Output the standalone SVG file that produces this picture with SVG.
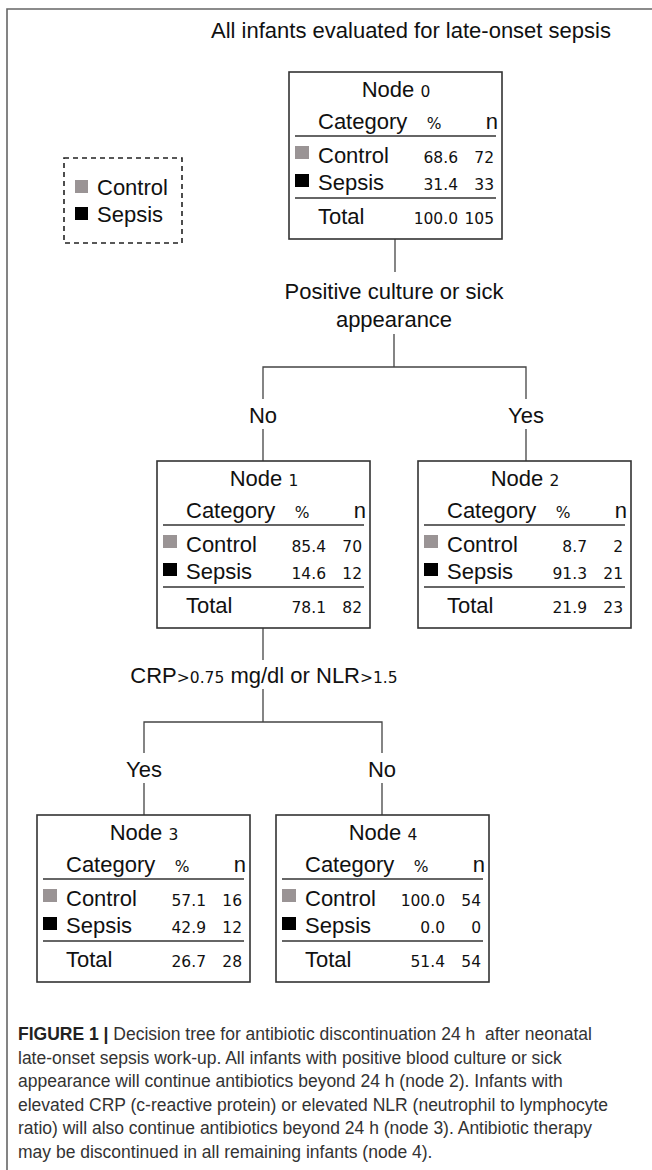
<svg xmlns="http://www.w3.org/2000/svg" width="652" height="1170" viewBox="0 0 652 1170">
<style>
.bg{fill:#ffffff}
.frame{fill:none;stroke:#666;stroke-width:1.6}
.t{font-family:"Liberation Sans",Arial,sans-serif;font-size:22px;fill:#111}
.d{font-family:"DejaVu Sans",Tahoma,sans-serif;font-size:15.5px;fill:#111}
.box{fill:#fff;stroke:#333;stroke-width:1.6}
.rule{stroke:#333;stroke-width:1.4}
.ctl{fill:#9a9495}
.sep{fill:#000}
.conn path{fill:none;stroke:#444;stroke-width:1.3}
.cap{font-family:"Liberation Sans",Arial,sans-serif;font-size:17.5px;fill:#333}
.capb{font-weight:bold;fill:#222}
.leg{fill:none;stroke:#222;stroke-width:1.6;stroke-dasharray:5,4}
</style>
<rect class="bg" x="0" y="0" width="652" height="1170"/>
<path class="frame" d="M7,1170 V9 H652"/>

<text id="title" class="t" x="411" y="38" text-anchor="middle">All infants evaluated for late-onset sepsis</text>

<g id="legend">
  <rect class="leg" x="64" y="158" width="118" height="85"/>
  <rect class="ctl" x="75" y="180" width="13" height="13"/>
  <text class="t" x="97" y="195">Control</text>
  <rect class="sep" x="75" y="207" width="13" height="13"/>
  <text class="t" x="97" y="222">Sepsis</text>
</g>

<g id="connectors" class="conn">
  <path d="M395,239 V272"/>
  <path d="M394,334 V367 M263,399 V367 H526 V399"/>
  <path d="M263,429 V461 M526,429 V461"/>
  <path d="M263,628 V660"/>
  <path d="M263,689 V722 M144,753 V722 H382 V753"/>
  <path d="M144,783 V815 M382,783 V815"/>
</g>
<g id="labels">
  <text class="t" x="394" y="299" text-anchor="middle">Positive culture or sick</text>
  <text class="t" x="394" y="327" text-anchor="middle">appearance</text>
  <text class="t" x="263" y="423" text-anchor="middle">No</text>
  <text class="t" x="526" y="423" text-anchor="middle">Yes</text>
  <text class="t" x="264" y="683" text-anchor="middle">CRP<tspan class="d">&gt;0.75</tspan> mg/dl or NLR<tspan class="d">&gt;1.5</tspan></text>
  <text class="t" x="144" y="777" text-anchor="middle">Yes</text>
  <text class="t" x="382" y="777" text-anchor="middle">No</text>
</g>

<g id="node0" transform="translate(289,72)">
  <rect class="box" x="0" y="0" width="213" height="167"/>
  <text class="t" x="107" y="25" text-anchor="middle">Node <tspan class="d">0</tspan></text>
  <text class="t" x="29" y="57">Category</text>
  <text class="d" x="145" y="57" text-anchor="middle">%</text>
  <text class="t" x="209" y="57" text-anchor="end">n</text>
  <line class="rule" x1="6" y1="64" x2="207" y2="64"/>
  <rect class="ctl" x="6" y="74" width="14" height="13"/>
  <text class="t" x="29" y="91">Control</text>
  <text class="d" x="169" y="91" text-anchor="end">68.6</text>
  <text class="d" x="205" y="91" text-anchor="end">72</text>
  <rect class="sep" x="6" y="102" width="14" height="13"/>
  <text class="t" x="29" y="118">Sepsis</text>
  <text class="d" x="169" y="118" text-anchor="end">31.4</text>
  <text class="d" x="205" y="118" text-anchor="end">33</text>
  <line class="rule" x1="6" y1="126" x2="207" y2="126"/>
  <text class="t" x="29" y="152">Total</text>
  <text class="d" x="169" y="152" text-anchor="end">100.0</text>
  <text class="d" x="205" y="152" text-anchor="end">105</text>
</g>

<g id="node1" transform="translate(157,461)">
  <rect class="box" x="0" y="0" width="213" height="167"/>
  <text class="t" x="107" y="25" text-anchor="middle">Node <tspan class="d">1</tspan></text>
  <text class="t" x="29" y="57">Category</text>
  <text class="d" x="145" y="57" text-anchor="middle">%</text>
  <text class="t" x="209" y="57" text-anchor="end">n</text>
  <line class="rule" x1="6" y1="64" x2="207" y2="64"/>
  <rect class="ctl" x="6" y="74" width="14" height="13"/>
  <text class="t" x="29" y="91">Control</text>
  <text class="d" x="169" y="91" text-anchor="end">85.4</text>
  <text class="d" x="205" y="91" text-anchor="end">70</text>
  <rect class="sep" x="6" y="102" width="14" height="13"/>
  <text class="t" x="29" y="118">Sepsis</text>
  <text class="d" x="169" y="118" text-anchor="end">14.6</text>
  <text class="d" x="205" y="118" text-anchor="end">12</text>
  <line class="rule" x1="6" y1="126" x2="207" y2="126"/>
  <text class="t" x="29" y="152">Total</text>
  <text class="d" x="169" y="152" text-anchor="end">78.1</text>
  <text class="d" x="205" y="152" text-anchor="end">82</text>
</g>

<g id="node2" transform="translate(418,461)">
  <rect class="box" x="0" y="0" width="213" height="167"/>
  <text class="t" x="107" y="25" text-anchor="middle">Node <tspan class="d">2</tspan></text>
  <text class="t" x="29" y="57">Category</text>
  <text class="d" x="145" y="57" text-anchor="middle">%</text>
  <text class="t" x="209" y="57" text-anchor="end">n</text>
  <line class="rule" x1="6" y1="64" x2="207" y2="64"/>
  <rect class="ctl" x="6" y="74" width="14" height="13"/>
  <text class="t" x="29" y="91">Control</text>
  <text class="d" x="169" y="91" text-anchor="end">8.7</text>
  <text class="d" x="205" y="91" text-anchor="end">2</text>
  <rect class="sep" x="6" y="102" width="14" height="13"/>
  <text class="t" x="29" y="118">Sepsis</text>
  <text class="d" x="169" y="118" text-anchor="end">91.3</text>
  <text class="d" x="205" y="118" text-anchor="end">21</text>
  <line class="rule" x1="6" y1="126" x2="207" y2="126"/>
  <text class="t" x="29" y="152">Total</text>
  <text class="d" x="169" y="152" text-anchor="end">21.9</text>
  <text class="d" x="205" y="152" text-anchor="end">23</text>
</g>

<g id="node3" transform="translate(37,815)">
  <rect class="box" x="0" y="0" width="213" height="167"/>
  <text class="t" x="107" y="25" text-anchor="middle">Node <tspan class="d">3</tspan></text>
  <text class="t" x="29" y="57">Category</text>
  <text class="d" x="145" y="57" text-anchor="middle">%</text>
  <text class="t" x="209" y="57" text-anchor="end">n</text>
  <line class="rule" x1="6" y1="64" x2="207" y2="64"/>
  <rect class="ctl" x="6" y="74" width="14" height="13"/>
  <text class="t" x="29" y="91">Control</text>
  <text class="d" x="169" y="91" text-anchor="end">57.1</text>
  <text class="d" x="205" y="91" text-anchor="end">16</text>
  <rect class="sep" x="6" y="102" width="14" height="13"/>
  <text class="t" x="29" y="118">Sepsis</text>
  <text class="d" x="169" y="118" text-anchor="end">42.9</text>
  <text class="d" x="205" y="118" text-anchor="end">12</text>
  <line class="rule" x1="6" y1="126" x2="207" y2="126"/>
  <text class="t" x="29" y="152">Total</text>
  <text class="d" x="169" y="152" text-anchor="end">26.7</text>
  <text class="d" x="205" y="152" text-anchor="end">28</text>
</g>

<g id="node4" transform="translate(276,815)">
  <rect class="box" x="0" y="0" width="213" height="167"/>
  <text class="t" x="107" y="25" text-anchor="middle">Node <tspan class="d">4</tspan></text>
  <text class="t" x="29" y="57">Category</text>
  <text class="d" x="145" y="57" text-anchor="middle">%</text>
  <text class="t" x="209" y="57" text-anchor="end">n</text>
  <line class="rule" x1="6" y1="64" x2="207" y2="64"/>
  <rect class="ctl" x="6" y="74" width="14" height="13"/>
  <text class="t" x="29" y="91">Control</text>
  <text class="d" x="169" y="91" text-anchor="end">100.0</text>
  <text class="d" x="205" y="91" text-anchor="end">54</text>
  <rect class="sep" x="6" y="102" width="14" height="13"/>
  <text class="t" x="29" y="118">Sepsis</text>
  <text class="d" x="169" y="118" text-anchor="end">0.0</text>
  <text class="d" x="205" y="118" text-anchor="end">0</text>
  <line class="rule" x1="6" y1="126" x2="207" y2="126"/>
  <text class="t" x="29" y="152">Total</text>
  <text class="d" x="169" y="152" text-anchor="end">51.4</text>
  <text class="d" x="205" y="152" text-anchor="end">54</text>
</g>

<g id="caption" class="cap">
  <text x="18" y="1040"><tspan class="capb">FIGURE 1 |</tspan> Decision tree for antibiotic discontinuation 24 h&#160; after neonatal</text>
  <text x="18" y="1063.5">late-onset sepsis work-up. All infants with positive blood culture or sick</text>
  <text x="18" y="1087">appearance will continue antibiotics beyond 24 h (node 2). Infants with</text>
  <text x="18" y="1110.5">elevated CRP (c-reactive protein) or elevated NLR (neutrophil to lymphocyte</text>
  <text x="18" y="1134">ratio) will also continue antibiotics beyond 24 h (node 3). Antibiotic therapy</text>
  <text x="18" y="1157.5">may be discontinued in all remaining infants (node 4).</text>
</g>
</svg>
